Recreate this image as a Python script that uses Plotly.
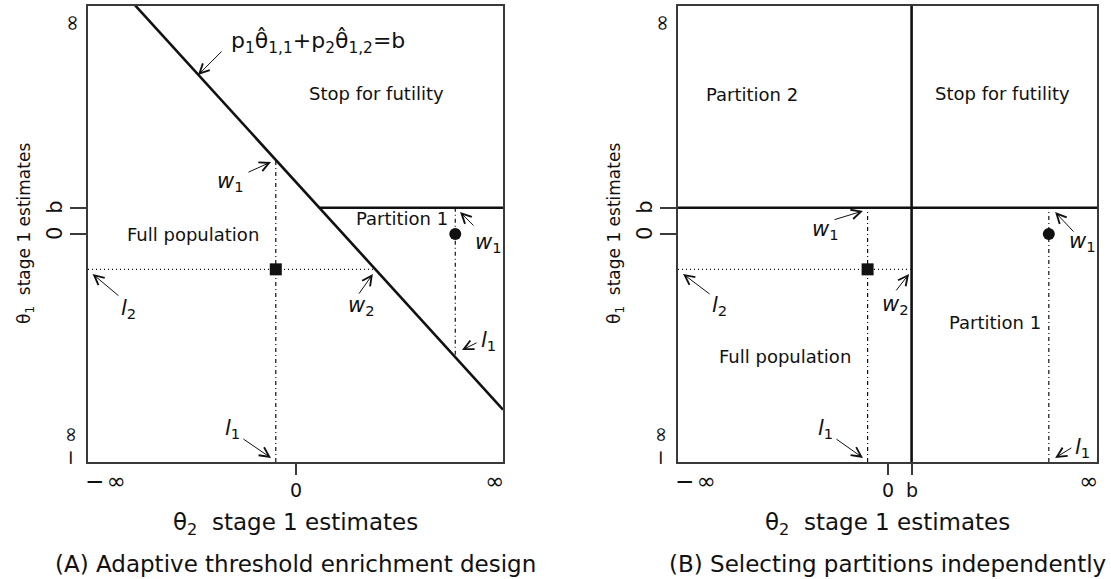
import plotly.graph_objects as go

# ---------------- data ----------------
b = 1.15                 # threshold b
p1, p2 = 0.5, 0.5        # weights in p1*theta11 + p2*theta12 = b
lo, hi = -10, 10         # plotted stand-ins for -inf / +inf
square_pt = (-0.95, -1.55)   # (theta2, theta1) of the filled square
circle_pt = (7.7, 0.0)       # (theta2, theta1) of the filled circle

panel_captions = ["(A) Adaptive threshold enrichment design",
                  "(B) Selecting partitions independently"]
x_title = "θ<sub>2</sub>  stage 1 estimates"
y_title = "θ<sub>1</sub>  stage 1 estimates"
eq_label = "p<sub>1</sub>θ\u0302<sub>1,1</sub>+p<sub>2</sub>θ\u0302<sub>1,2</sub>=b"

FONT = "DejaVu Sans"
INK = "#111111"
FRAME = "#3a3a3a"


def diag_y(x):
    return (b - p2 * x) / p1


def diag_x(y):
    return (b - p1 * y) / p2


W, H = 1111, 579
boxA = (88, 503)
boxB = (678, 1097)
boxY = (6, 462)

fig = go.Figure()


def line(xs, ys, ax, width=1.2, dash="solid"):
    fig.add_trace(go.Scatter(x=xs, y=ys, mode="lines", xaxis=ax[0], yaxis=ax[1],
                             line=dict(color=INK, width=width, dash=dash),
                             hoverinfo="skip", showlegend=False))


def points(ax):
    fig.add_trace(go.Scatter(x=[square_pt[0]], y=[square_pt[1]], mode="markers",
                             xaxis=ax[0], yaxis=ax[1],
                             marker=dict(symbol="square", size=12, color=INK),
                             hoverinfo="skip", showlegend=False))
    fig.add_trace(go.Scatter(x=[circle_pt[0]], y=[circle_pt[1]], mode="markers",
                             xaxis=ax[0], yaxis=ax[1],
                             marker=dict(symbol="circle", size=12, color=INK),
                             hoverinfo="skip", showlegend=False))


DASHDOT = "4px,3px,1px,3px"
DOT = "1px,3px"

# ---------------- panel A ----------------
A = ("x", "y")
line([lo, hi], [diag_y(lo), diag_y(hi)], A, width=2.6)
line([diag_x(b), hi], [b, b], A, width=2.6)
line([square_pt[0]] * 2, [lo, diag_y(square_pt[0])], A, dash=DASHDOT)
line([lo, diag_x(square_pt[1])], [square_pt[1]] * 2, A, width=1.3, dash=DOT)
line([circle_pt[0]] * 2, [b, diag_y(circle_pt[0])], A, dash=DASHDOT)
points(A)

# ---------------- panel B ----------------
B = ("x2", "y2")
line([lo, hi], [b, b], B, width=2.6)
line([b, b], [lo, hi], B, width=2.6)
line([square_pt[0]] * 2, [lo, b], B, dash=DASHDOT)
line([lo, b], [square_pt[1]] * 2, B, width=1.3, dash=DOT)
line([circle_pt[0]] * 2, [lo, b], B, dash=DASHDOT)
points(B)

ann = []


def text(ax, x, y, s, size=18, angle=0, **kw):
    d = dict(xref=ax[0], yref=ax[1], x=x, y=y, text=s, showarrow=False,
             font=dict(family=FONT, size=size, color=INK), textangle=angle,
             xanchor="center", yanchor="middle")
    d.update(kw)
    ann.append(d)


def arrow(ax, tail, tip):
    ann.append(dict(xref=ax[0], yref=ax[1], axref=ax[0], ayref=ax[1],
                    x=tip[0], y=tip[1], ax=tail[0], ay=tail[1], text="",
                    showarrow=True, arrowhead=5, arrowsize=1.9, arrowwidth=1,
                    arrowcolor=INK, standoff=0, startstandoff=0))


def it(sym, sub):
    return f"<i>{sym}</i><sub>{sub}</sub>"


LS = 21  # size of italic w / l labels

# panel A labels
text(A, 1.08, 8.42, eq_label, size=22)
arrow(A, (-3.49, 8.07), (-4.70, 6.97))
text(A, 3.88, 6.18, "Stop for futility")
text(A, -4.94, 0.0, "Full population")
text(A, 5.13, 0.66, "Partition 1")
text(A, -3.11, 2.28, it("w", 1), size=LS)
arrow(A, (-2.34, 2.68), (-1.18, 3.16))
text(A, 9.28, -0.39, it("w", 1), size=LS)
arrow(A, (8.65, 0.31), (7.93, 0.96))
text(A, -8.07, -3.29, it("l", 2), size=LS)
arrow(A, (-8.46, -2.76), (-9.78, -1.75))
text(A, 3.20, -3.16, it("w", 2), size=LS)
arrow(A, (3.01, -2.68), (3.73, -1.75))
text(A, 9.30, -4.69, it("l", 1), size=LS)
arrow(A, (8.80, -4.74), (8.02, -5.09))
text(A, -3.06, -8.55, it("l", 1), size=LS)
arrow(A, (-2.58, -8.95), (-1.18, -9.82))

# panel B labels
text(B, -6.47, 6.14, "Partition 2")
text(B, 5.47, 6.18, "Stop for futility")
text(B, 5.13, -3.86, "Partition 1")
text(B, -4.89, -5.39, "Full population")
text(B, -2.98, 0.18, it("w", 1), size=LS)
arrow(B, (-2.60, 0.61), (-1.17, 1.01))
text(B, 9.33, -0.35, it("w", 1), size=LS)
arrow(B, (8.95, 0.04), (8.0, 0.96))
text(B, -8.0, -3.16, it("l", 2), size=LS)
arrow(B, (-8.42, -2.68), (-9.76, -1.75))
text(B, 0.36, -3.11, it("w", 2), size=LS)
arrow(B, (0.36, -2.54), (1.03, -1.75))
text(B, -2.98, -8.55, it("l", 1), size=LS)
arrow(B, (-2.51, -8.95), (-1.17, -9.82))
text(B, 9.33, -9.39, it("l", 1), size=LS)
arrow(B, (8.85, -9.34), (8.0, -9.82))

# axis tick labels, titles, captions
x_ticks = {"x": [(0, "0")], "x2": [(0, "0"), (b, "b")]}
y_ticks = [(0, "0"), (b, "b")]
INF = "\u221e"
NINF_X = "\u2212\u200a\u221e"
NINF_Y = "\u2212 \u221e"
for ax, cap in zip([A, B], panel_captions):
    for v, s in x_ticks[ax[0]]:
        text(ax, v, lo, s, size=19, yshift=-28)
    for v, s in y_ticks:
        text(ax, lo, v, s, size=21, angle=-90, xshift=-33)
    text(ax, lo, lo, NINF_X, size=23, xanchor="left", yshift=-19, xshift=-5)
    text(ax, hi, lo, INF, size=23, xanchor="right", yshift=-19, xshift=3)
    text(ax, lo, 9.25, INF, size=22, angle=-90, xshift=-17)
    text(ax, lo, -9.3, NINF_Y, size=20, angle=-90, xshift=-18)
    ann.append(dict(xref=ax[0] + " domain", yref="paper", x=0.5, y=1 - 524 / H,
                    text=x_title, showarrow=False, xanchor="center", yanchor="middle",
                    font=dict(family=FONT, size=23, color=INK)))
    ann.append(dict(xref=ax[0] + " domain", yref="paper", x=0.5, y=1 - 564 / H,
                    text=cap, showarrow=False, xanchor="center", yanchor="middle",
                    font=dict(family=FONT, size=23, color=INK)))
    ann.append(dict(xref=ax[0] + " domain", yref=ax[1] + " domain", x=0, y=0.5,
                    xshift=-63, text=y_title, showarrow=False, textangle=-90,
                    xanchor="center", yanchor="middle",
                    font=dict(family=FONT, size=17, color=INK)))

axis_common = dict(range=[lo, hi], showgrid=False, zeroline=False, showline=True,
                   mirror=True, linecolor=FRAME, linewidth=1.6, ticks="outside",
                   tickcolor=FRAME, tickwidth=1.6, showticklabels=False, fixedrange=True)
ydom = [1 - boxY[1] / H, 1 - boxY[0] / H]

fig.update_layout(
    width=W, height=H, margin=dict(l=0, r=0, t=0, b=0),
    paper_bgcolor="white", plot_bgcolor="white", showlegend=False,
    xaxis=dict(axis_common, domain=[boxA[0] / W, boxA[1] / W], anchor="y",
               tickvals=[0], ticklen=11),
    yaxis=dict(axis_common, domain=ydom, anchor="x", tickvals=[0, b], ticklen=16),
    xaxis2=dict(axis_common, domain=[boxB[0] / W, boxB[1] / W], anchor="y2",
                tickvals=[0, b], ticklen=11),
    yaxis2=dict(axis_common, domain=ydom, anchor="x2", tickvals=[0, b], ticklen=16),
    annotations=ann,
)

fig.write_html("out.html", config={"displayModeBar": False},
               post_script="document.body.style.margin='0px';document.body.style.overflow='hidden';")
